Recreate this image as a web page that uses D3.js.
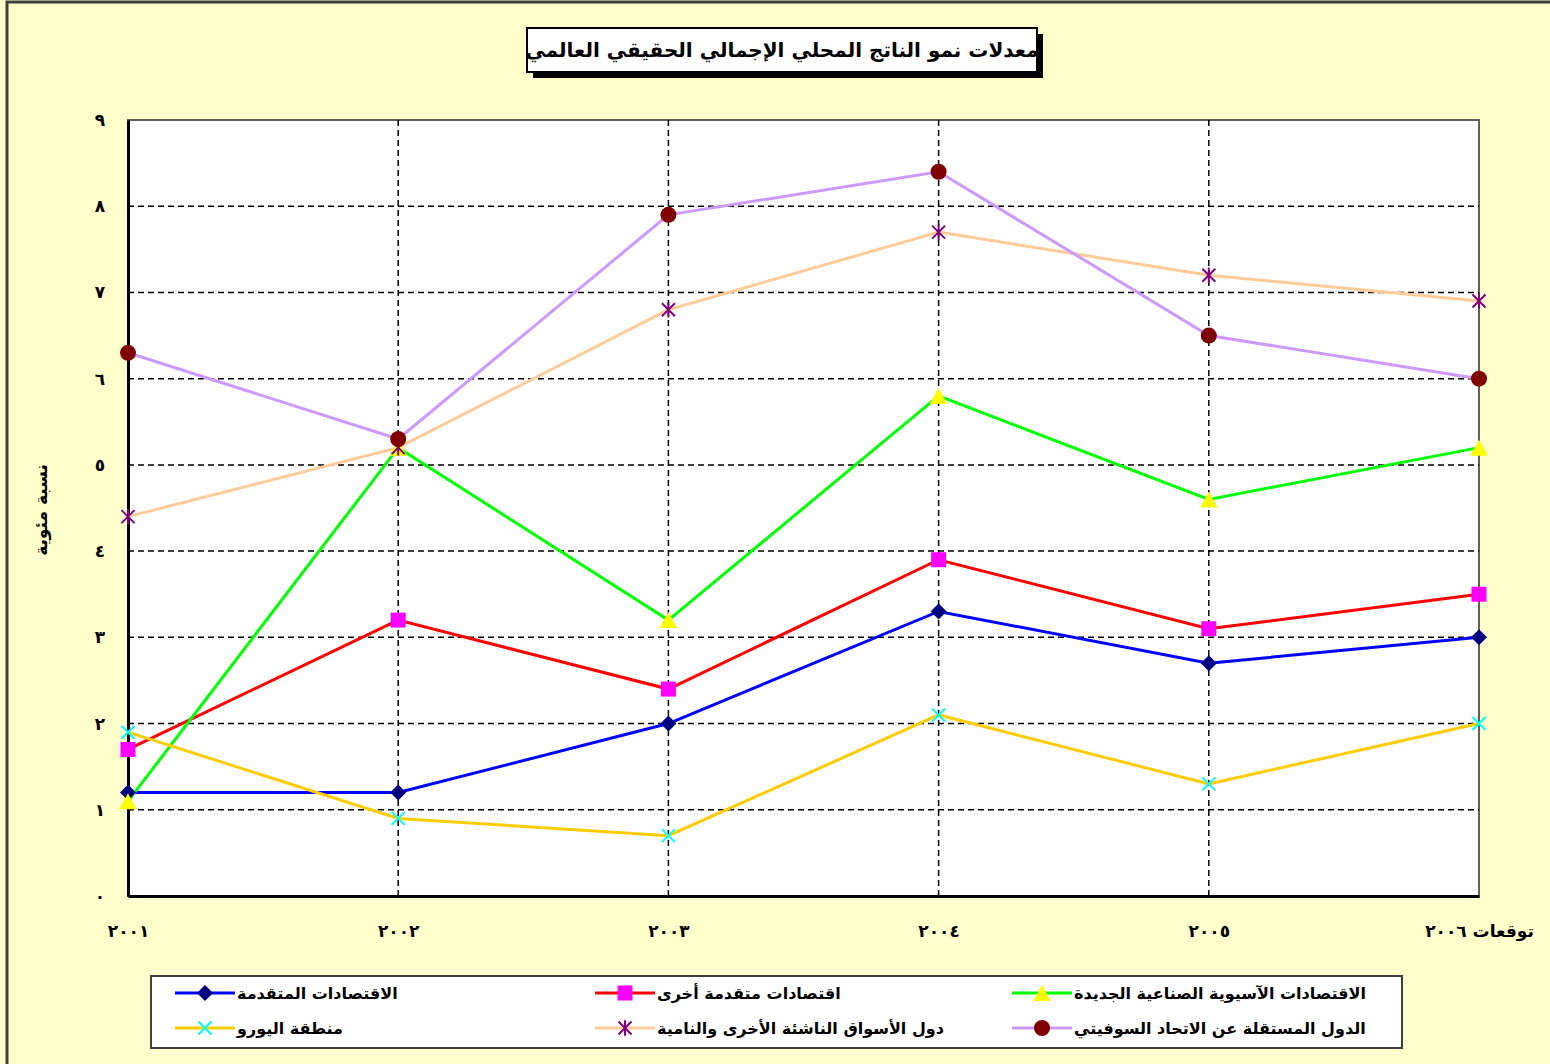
<!DOCTYPE html>
<html>
<head>
<meta charset="utf-8">
<script src="https://cdn.jsdelivr.net/npm/d3@7"></script>
<style>
    body { margin: 0; background: #FFFFCC; }
    svg { display: block; font-family: "DejaVu Sans", Arial, sans-serif; }
</style>
</head>
<body>
<div id="chart"></div>
<script>
// chart data
var years = ["٢٠٠١", "٢٠٠٢", "٢٠٠٣", "٢٠٠٤", "٢٠٠٥", "توقعات ٢٠٠٦"];
var yTicks = [0, 1, 2, 3, 4, 5, 6, 7, 8, 9];

var seriesNames = [
    "الاقتصادات المتقدمة",
    "اقتصادات متقدمة أخرى",
    "الاقتصادات الآسيوية الصناعية الجديدة",
    "منطقة اليورو",
    "دول الأسواق الناشئة الأخرى والنامية",
    "الدول المستقلة عن الاتحاد السوفيتي"
];

var advanced = [1.2, 1.2, 2.0, 3.3, 2.7, 3.0];
var otherAdvanced = [1.7, 3.2, 2.4, 3.9, 3.1, 3.5];
var asianNIEs = [1.1, 5.2, 3.2, 5.8, 4.6, 5.2];
var euroArea = [1.9, 0.9, 0.7, 2.1, 1.3, 2.0];
var emerging = [4.4, 5.2, 6.8, 7.7, 7.2, 6.9];
var cis = [6.3, 5.3, 7.9, 8.4, 6.5, 6.0];

var chartTitle = "معدلات نمو الناتج المحلي الإجمالي الحقيقي العالمي";
var yTitle = "نسبة مئوية";

var svgWidth = 1550, svgHeight = 1064;
var plot = { left: 128, right: 1479, top: 120, bottom: 896 };

// own marker shapes, r ~ half width
var shapes = {
    diamond: { draw: function (c, s) { var r = Math.sqrt(s) / 2; c.moveTo(0, -r); c.lineTo(r, 0); c.lineTo(0, r); c.lineTo(-r, 0); c.closePath(); } },
    square: { draw: function (c, s) { var r = Math.sqrt(s) / 2; c.rect(-r, -r, 2 * r, 2 * r); } },
    triangle: { draw: function (c, s) { var r = Math.sqrt(s) / 2; c.moveTo(0, -r); c.lineTo(r * 1.1, r); c.lineTo(-r * 1.1, r); c.closePath(); } },
    times: { draw: function (c, s) { var r = Math.sqrt(s) / 2; c.moveTo(-r, -r); c.lineTo(r, r); c.moveTo(r, -r); c.lineTo(-r, r); } },
    asterisk: { draw: function (c, s) { var r = Math.sqrt(s) / 2; c.moveTo(-r, -r); c.lineTo(r, r); c.moveTo(r, -r); c.lineTo(-r, r); c.moveTo(0, -r * 1.2); c.lineTo(0, r * 1.2); } },
    circle: { draw: function (c, s) { var r = Math.sqrt(s) / 2; c.moveTo(r, 0); c.arc(0, 0, r, 0, 2 * Math.PI); } }
};

var series = [
    { name: seriesNames[0], values: advanced, line: "#0000FF", shape: "diamond", fill: "#000080", stroke: "none", size: 16 },
    { name: seriesNames[1], values: otherAdvanced, line: "#FF0000", shape: "square", fill: "#FF00FF", stroke: "none", size: 15 },
    { name: seriesNames[2], values: asianNIEs, line: "#00FF00", shape: "triangle", fill: "#FFFF00", stroke: "none", size: 16 },
    { name: seriesNames[3], values: euroArea, line: "#FFCC00", shape: "times", fill: "none", stroke: "#00FFFF", size: 13 },
    { name: seriesNames[4], values: emerging, line: "#FFCC99", shape: "asterisk", fill: "none", stroke: "#800080", size: 13 },
    { name: seriesNames[5], values: cis, line: "#CC99FF", shape: "circle", fill: "#800000", stroke: "none", size: 16 }
];

function arabicDigits(v) {
    return String(v).replace(/\d/g, c => "٠١٢٣٤٥٦٧٨٩"[c]);
}

var svg = d3.select("#chart")
    .append("svg")
    .attr("width", svgWidth)
    .attr("height", svgHeight);

// outer frame (only top and left show)
svg.append("path")
    .attr("d", "M7,1064 V2 H1550")
    .attr("fill", "none")
    .attr("stroke", "#404040")
    .attr("stroke-width", 3);

var x = d3.scalePoint().domain(years).range([plot.left, plot.right]);
var y = d3.scaleLinear().domain([0, 9]).range([plot.bottom, plot.top]);

// plot area
svg.append("rect")
    .attr("x", plot.left).attr("y", plot.top)
    .attr("width", plot.right - plot.left).attr("height", plot.bottom - plot.top)
    .attr("fill", "#FFFFFF")
    .attr("stroke", "#606060")
    .attr("stroke-width", 2);

// gridlines
svg.append("g")
    .selectAll("line")
    .data(yTicks.filter(d => d > 0 && d < 9))
    .enter().append("line")
    .attr("x1", plot.left).attr("x2", plot.right)
    .attr("y1", d => y(d)).attr("y2", d => y(d))
    .attr("stroke", "#000")
    .attr("stroke-width", 1.5)
    .attr("stroke-dasharray", "6,4");

svg.append("g")
    .selectAll("line")
    .data(years.slice(1, -1))
    .enter().append("line")
    .attr("x1", d => x(d)).attr("x2", d => x(d))
    .attr("y1", plot.top).attr("y2", plot.bottom)
    .attr("stroke", "#000")
    .attr("stroke-width", 1.5)
    .attr("stroke-dasharray", "6,4");

// axes
var yAxis = d3.axisLeft(y).tickValues(yTicks).tickSize(0).tickPadding(28).tickFormat(arabicDigits);
var xAxis = d3.axisBottom(x).tickSize(0).tickPadding(29);

var gy = svg.append("g")
    .attr("transform", `translate(${plot.left},0)`)
    .call(yAxis);
gy.select(".domain").attr("stroke", "#000").attr("stroke-width", 3);
gy.selectAll("text")
    .attr("text-anchor", "middle")
    .attr("font-size", 17)
    .attr("font-weight", "bold")
    .attr("font-family", "DejaVu Sans")
    .attr("fill", "#000");

var gx = svg.append("g")
    .attr("transform", `translate(0,${plot.bottom})`)
    .call(xAxis);
gx.select(".domain").attr("stroke", "#000").attr("stroke-width", 3);
gx.selectAll("text")
    .attr("font-size", 17)
    .attr("font-weight", "bold")
    .attr("font-family", "DejaVu Sans")
    .attr("fill", "#000");

// y axis title
svg.append("text")
    .attr("transform", "translate(47,510) rotate(-90)")
    .attr("text-anchor", "middle")
    .attr("font-size", 17)
    .attr("font-weight", "bold")
    .text(yTitle);

// lines + markers
var valueline = d3.line()
    .x((d, i) => x(years[i]))
    .y(d => y(d));

series.forEach(function (s) {
    svg.append("path")
        .attr("d", valueline(s.values))
        .attr("fill", "none")
        .attr("stroke", s.line)
        .attr("stroke-width", 3);
});

series.forEach(function (s) {
    svg.append("g")
        .selectAll("path")
        .data(s.values)
        .enter().append("path")
        .attr("transform", (d, i) => `translate(${x(years[i])},${y(d)})`)
        .attr("d", d3.symbol().type(shapes[s.shape]).size(s.size * s.size))
        .attr("fill", s.fill)
        .attr("stroke", s.stroke)
        .attr("stroke-width", 2);
});

// title box with shadow
var title = svg.append("g");
title.append("rect")
    .attr("x", 533).attr("y", 34).attr("width", 510).attr("height", 44)
    .attr("fill", "#000");
title.append("rect")
    .attr("x", 527).attr("y", 28).attr("width", 510).attr("height", 44)
    .attr("fill", "#FFFFFF")
    .attr("stroke", "#000")
    .attr("stroke-width", 2);
title.append("text")
    .attr("x", 782).attr("y", 57)
    .attr("text-anchor", "middle")
    .attr("font-size", 20)
    .attr("font-weight", "bold")
    .text(chartTitle);

// legend
var legend = svg.append("g");
legend.append("rect")
    .attr("x", 151).attr("y", 976).attr("width", 1251).attr("height", 72)
    .attr("fill", "#FFFFFF")
    .attr("stroke", "#404040")
    .attr("stroke-width", 2);

var legendCols = [175, 595, 1012];
var legendRows = [993, 1028];

var item = legend.selectAll(".item")
    .data(series)
    .enter().append("g")
    .attr("class", "item")
    .attr("transform", (d, i) => `translate(${legendCols[i % 3]},${legendRows[Math.floor(i / 3)]})`);

item.append("line")
    .attr("x1", 0).attr("x2", 60)
    .attr("stroke", d => d.line)
    .attr("stroke-width", 3);

item.append("path")
    .attr("transform", "translate(30,0)")
    .attr("d", d => d3.symbol().type(shapes[d.shape]).size(d.size * d.size)())
    .attr("fill", d => d.fill)
    .attr("stroke", d => d.stroke)
    .attr("stroke-width", 2);

item.append("text")
    .attr("x", 62)
    .attr("y", 6)
    .attr("font-size", 16)
    .attr("font-weight", "bold")
    .text(d => d.name);
</script>
</body>
</html>
